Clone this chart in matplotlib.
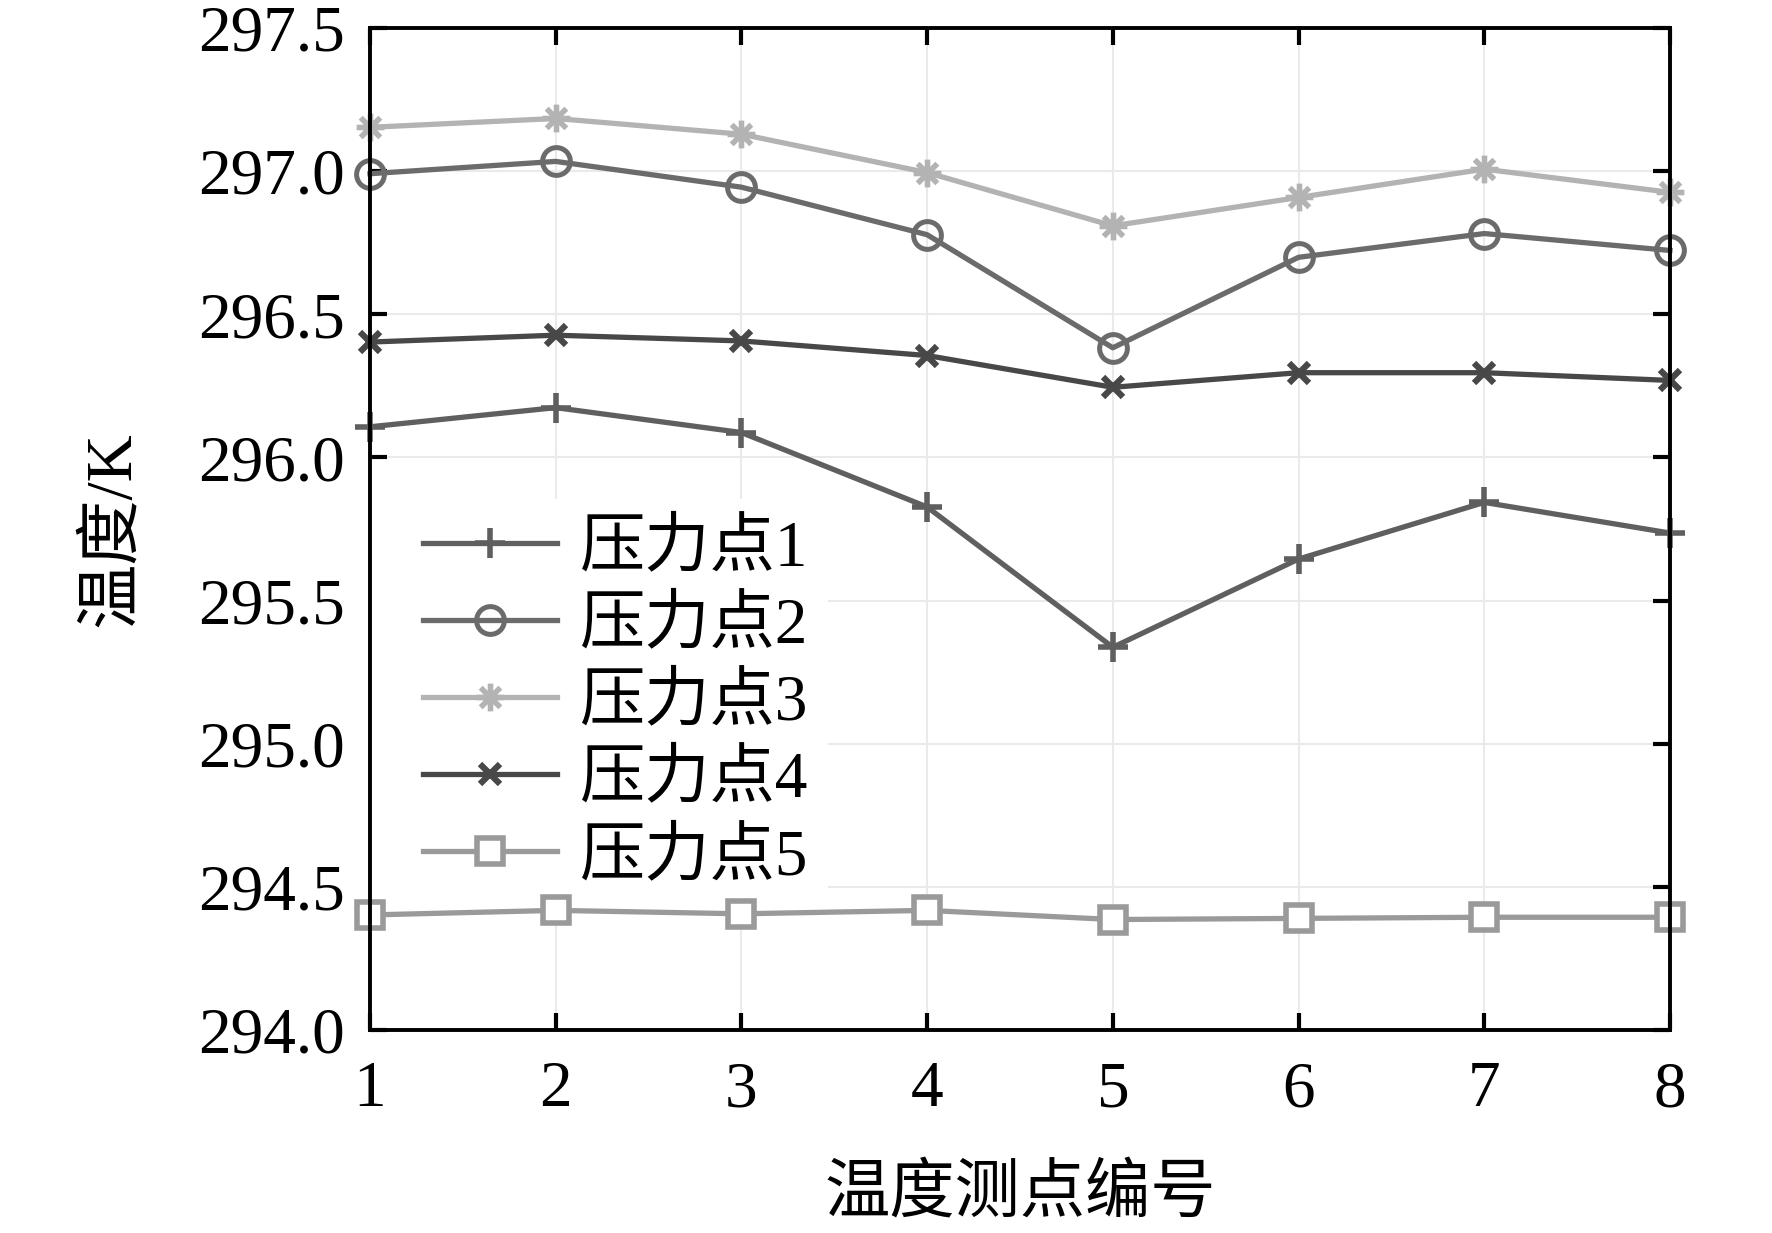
import matplotlib
matplotlib.use("Agg")
import matplotlib.pyplot as plt
from matplotlib.path import Path
from matplotlib.patches import Rectangle
import numpy as np

plt.rcParams['font.family'] = ['Liberation Serif', 'Noto Sans CJK SC', 'DejaVu Sans']

x_points = [1, 2, 3, 4, 5, 6, 7, 8]
series_names = ['压力点1', '压力点2', '压力点3', '压力点4', '压力点5']
p1 = [296.107, 296.174, 296.087, 295.827, 295.337, 295.645, 295.843, 295.736]
p2 = [296.991, 297.034, 296.944, 296.778, 296.383, 296.699, 296.782, 296.723]
p3 = [297.153, 297.184, 297.129, 296.995, 296.809, 296.908, 297.007, 296.926]
p4 = [296.403, 296.427, 296.407, 296.356, 296.245, 296.296, 296.296, 296.269]
p5 = [294.402, 294.418, 294.406, 294.418, 294.386, 294.390, 294.394, 294.394]
y_ticks = [294.0, 294.5, 295.0, 295.5, 296.0, 296.5, 297.0, 297.5]

# MATLAB-style asterisk marker (+ and x combined)
d = 0.7071
ast_verts = [(-1, 0), (1, 0), (0, -1), (0, 1), (-d, -d), (d, d), (-d, d), (d, -d)]
ast_codes = [Path.MOVETO, Path.LINETO] * 4
asterisk = Path(ast_verts, ast_codes)

styles = [
    dict(color='#5f5f5f', marker='+', ms=22, mew=4.0),
    dict(color='#6b6b6b', marker='o', ms=20, mew=3.6, mfc='none'),
    dict(color='#b3b3b3', marker=asterisk, ms=20, mew=4.0, fillstyle='none'),
    dict(color='#484848', marker='x', ms=15, mew=4.5),
    dict(color='#9a9a9a', marker='s', ms=19, mew=4.0, mfc='white'),
]

fig = plt.figure(figsize=(17.72, 12.33), dpi=100)
ax = fig.add_axes([0.2088, 0.1646, 0.7336, 0.8127])

for name, vals, st in zip(series_names, [p1, p2, p3, p4, p5], styles):
    ax.plot(x_points, vals, label=name, lw=3.8, clip_on=False, zorder=3, **st)

ax.set_xlim(1, 8)
ax.set_ylim(294.0, 297.5)
ax.set_xticks(x_points)
ax.set_yticks(y_ticks)
ax.set_yticklabels([f'{v:.1f}' for v in y_ticks])
ax.grid(True, color='#eaeaea', lw=1.5)
ax.set_axisbelow(True)
ax.tick_params(direction='in', length=12, width=3, top=True, right=True,
               labelsize=47, pad=18)
ax.tick_params(axis='x', pad=22)
for sp in ax.spines.values():
    sp.set_linewidth(2.8)
    sp.set_zorder(4)

ax.set_xlabel('温度测点编号', fontsize=47, labelpad=32)
ax.set_ylabel('温度/K', fontsize=47, labelpad=40)

leg = ax.legend(loc='upper left', bbox_to_anchor=(0.026, 0.530), fontsize=47,
                frameon=True, facecolor='white', edgecolor='none', framealpha=1,
                handlelength=2.05, handletextpad=0.35, labelspacing=0.25,
                borderpad=0.3, borderaxespad=0.0, fancybox=False)
leg.get_frame().set_linewidth(0)
leg.set_zorder(2.3)

# white strip between the axis and the legend box
fig.canvas.draw()
bb = leg.get_window_extent().transformed(ax.transAxes.inverted())
ax.add_patch(Rectangle((0, bb.y0), bb.x0 + 0.002, bb.height, transform=ax.transAxes,
                       facecolor='white', edgecolor='none', zorder=2.2))

fig.savefig('out.png', dpi=100)
